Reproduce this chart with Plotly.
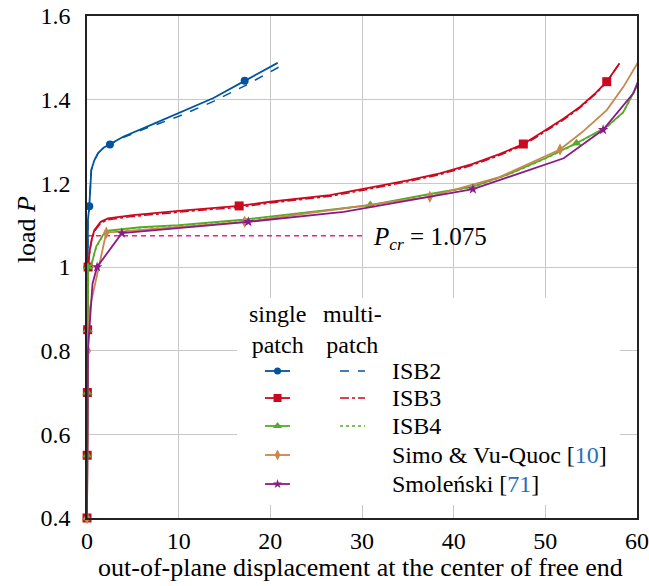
import plotly.graph_objects as go

# ---------------- data ----------------
# ISB2 single patch
isb2_x = [0, 0.01, 0.02, 0.03, 0.05, 0.1, 0.25, 0.47, 0.8, 1.2, 1.8, 2.5, 4.0, 6.5, 10.0, 13.8, 17.2, 20.8]
isb2_y = [0.4, 0.55, 0.7, 0.85, 1.0, 1.112, 1.145, 1.232, 1.255, 1.272, 1.285, 1.293, 1.312, 1.335, 1.368, 1.404, 1.445, 1.488]
isb2_mark = [0, 1, 2, 3, 4, 6, 11, 16]
# ISB2 multi patch
isb2m_x = [0, 0.05, 0.1, 0.25, 0.47, 0.8, 1.2, 1.8, 2.5, 4.0, 6.5, 10.0, 13.8, 17.2, 21.7]
isb2m_y = [0.4, 1.0, 1.112, 1.145, 1.232, 1.255, 1.272, 1.285, 1.293, 1.31, 1.332, 1.36, 1.396, 1.433, 1.487]

# ISB3 single patch
isb3_x = [0, 0.02, 0.04, 0.07, 0.12, 0.3, 0.5, 0.8, 1.5, 2.3, 5.0, 10.0, 16.6, 20.0, 26.5, 30.0, 35.0, 38.5, 42.0, 45.0, 47.6, 50.0, 52.0, 53.8, 55.5, 56.7, 58.1]
isb3_y = [0.4, 0.55, 0.7, 0.85, 1.0, 1.04, 1.065, 1.088, 1.108, 1.116, 1.124, 1.134, 1.146, 1.156, 1.172, 1.186, 1.207, 1.224, 1.246, 1.27, 1.294, 1.327, 1.355, 1.383, 1.416, 1.443, 1.487]
isb3_mark = [0, 1, 2, 3, 4, 12, 20, 25]
# ISB3 multi patch
isb3m_x = [0, 0.12, 0.3, 0.5, 0.8, 1.5, 2.3, 5.0, 10.0, 16.6, 20.0, 26.5, 30.0, 35.0, 38.5, 42.0, 45.0, 47.6, 50.0, 52.0, 53.8, 55.5, 56.7, 58.1]
isb3m_y = [0.4, 1.0, 1.038, 1.062, 1.085, 1.105, 1.113, 1.121, 1.131, 1.143, 1.153, 1.169, 1.183, 1.204, 1.221, 1.243, 1.267, 1.291, 1.324, 1.352, 1.381, 1.414, 1.442, 1.487]

# ISB4 single patch
isb4_x = [0, 0.02, 0.04, 0.07, 0.12, 0.47, 1.0, 1.75, 2.3, 5.8, 10.0, 17.0, 26.5, 30.9, 37.4, 42.1, 46.0, 50.0, 53.4, 56.7, 58.5, 59.6, 60.4]
isb4_y = [0.4, 0.55, 0.7, 0.85, 1.0, 1.005, 1.049, 1.077, 1.087, 1.095, 1.1, 1.113, 1.136, 1.148, 1.175, 1.192, 1.222, 1.26, 1.296, 1.335, 1.37, 1.415, 1.45]
isb4_mark = [0, 1, 2, 3, 4, 13, 18]
# ISB4 multi patch
isb4m_x = [0, 0.12, 0.47, 1.0, 1.75, 2.3, 5.8, 10.0, 17.0, 26.5, 30.9, 37.4, 42.1, 46.0, 50.0, 53.4, 56.7, 58.5, 59.6, 60.4]
isb4m_y = [0.4, 1.0, 1.004, 1.047, 1.075, 1.086, 1.094, 1.099, 1.112, 1.135, 1.147, 1.174, 1.191, 1.221, 1.259, 1.295, 1.334, 1.369, 1.414, 1.449]

# Simo & Vu-Quoc
simo_x = [0, 0.1, 0.29, 2.1, 17.2, 37.4, 45.0, 51.6, 54.0, 56.7, 58.5, 60.4]
simo_y = [0.4, 0.8, 0.9, 1.082, 1.108, 1.168, 1.215, 1.281, 1.322, 1.375, 1.43, 1.5]
simo_mark = [0, 1, 3, 4, 5, 7]

# Smolenski
smol_x = [0, 0.1, 0.6, 1.1, 3.8, 17.6, 28.0, 42.1, 52.0, 56.3, 59.6, 60.4]
smol_y = [0.4, 0.8, 0.96, 1.0, 1.081, 1.108, 1.132, 1.186, 1.26, 1.328, 1.415, 1.46]
smol_mark = [3, 4, 5, 7, 9]

# critical load
p_cr = 1.075
p_cr_xend = 30.0

x_ticks = [0, 10, 20, 30, 40, 50, 60]
y_ticks = [0.4, 0.6, 0.8, 1.0, 1.2, 1.4, 1.6]
y_ticklabels = ["0.4", "0.6", "0.8", "1", "1.2", "1.4", "1.6"]

# ---------------- styles ----------------
C_BLUE = "#00549f"
C_RED = "#cc071e"
C_GREEN = "#57ab27"
C_ORANGE = "#c8874c"
C_PURPLE = "#8a1a88"
C_PINK = "#f01c8c"
C_CITE = "#2a6ebb"
FONT = "'Liberation Serif', 'Times New Roman', 'DejaVu Serif', serif"

series = [
    dict(name="ISB2", x=isb2_x, y=isb2_y, idx=isb2_mark, color=C_BLUE, symbol="circle", size=8,
         mx=isb2m_x, my=isb2m_y, mdash="dash"),
    dict(name="ISB3", x=isb3_x, y=isb3_y, idx=isb3_mark, color=C_RED, symbol="square", size=9,
         mx=isb3m_x, my=isb3m_y, mdash="dashdot"),
    dict(name="ISB4", x=isb4_x, y=isb4_y, idx=isb4_mark, color=C_GREEN, symbol="triangle-up", size=9,
         mx=isb4m_x, my=isb4m_y, mdash="dot"),
    dict(name="Simo", x=simo_x, y=simo_y, idx=simo_mark, color=C_ORANGE, symbol="diamond-tall", size=9,
         mx=None, my=None, mdash=None),
    dict(name="Smol", x=smol_x, y=smol_y, idx=smol_mark, color=C_PURPLE, symbol="star", size=8,
         mx=None, my=None, mdash=None),
]

fig = go.Figure()

# critical load line
fig.add_trace(go.Scatter(x=[0, p_cr_xend], y=[p_cr, p_cr], mode="lines",
                         line=dict(color=C_PINK, width=1.5, dash="5px,4px"), showlegend=False, hoverinfo="skip"))

# curves in legend order (later on top)
for s in series:
    fig.add_trace(go.Scatter(x=s["x"], y=s["y"], mode="lines",
                             line=dict(color=s["color"], width=1.8), showlegend=False, hoverinfo="skip"))
    fig.add_trace(go.Scatter(x=[s["x"][i] for i in s["idx"]], y=[s["y"][i] for i in s["idx"]],
                             mode="markers", cliponaxis=False,
                             marker=dict(color=s["color"], symbol=s["symbol"], size=s["size"], line=dict(width=0)),
                             showlegend=False, hoverinfo="skip"))
    if s["mx"] is not None:
        fig.add_trace(go.Scatter(x=s["mx"], y=s["my"], mode="lines",
                                 line=dict(color=s["color"], width=1.5, dash=s["mdash"]),
                                 showlegend=False, hoverinfo="skip"))

# ---------------- custom legend (overlay axes in [0,1]) ----------------
box_x0, box_x1, box_y0, box_y1 = 0.273, 0.969, 0.026, 0.438
fig.add_trace(go.Scatter(x=[box_x0, box_x1, box_x1, box_x0, box_x0], y=[box_y0, box_y0, box_y1, box_y1, box_y0],
                         xaxis="x2", yaxis="y2", mode="lines", fill="toself", fillcolor="white",
                         line=dict(width=0, color="white"), showlegend=False, hoverinfo="skip"))
row_v = [0.2928, 0.239, 0.1833, 0.1255, 0.0677]
sp_u0, sp_u1, sp_uc = 0.3236, 0.3691, 0.3464
mp_u0, mp_u1 = 0.46, 0.5055
for s, v in zip(series, row_v):
    fig.add_trace(go.Scatter(x=[sp_u0, sp_u1], y=[v, v], xaxis="x2", yaxis="y2", mode="lines",
                             line=dict(color=s["color"], width=1.8), showlegend=False, hoverinfo="skip"))
    fig.add_trace(go.Scatter(x=[sp_uc], y=[v], xaxis="x2", yaxis="y2", mode="markers",
                             marker=dict(color=s["color"], symbol=s["symbol"], size=s["size"] - 1, line=dict(width=0)),
                             showlegend=False, hoverinfo="skip"))
    if s["mdash"] is not None:
        fig.add_trace(go.Scatter(x=[mp_u0, mp_u1], y=[v, v], xaxis="x2", yaxis="y2", mode="lines",
                                 line=dict(color=s["color"], width=1.5, dash=s["mdash"]),
                                 showlegend=False, hoverinfo="skip"))

legend_labels = ["ISB2", "ISB3", "ISB4",
                 "Simo &amp; Vu-Quoc [<span style='color:%s'>10</span>]" % C_CITE,
                 "Smoleński [<span style='color:%s'>71</span>]" % C_CITE]
LFS = 24
annotations = []
for lab, v in zip(legend_labels, row_v):
    annotations.append(dict(x=0.551, y=v, xref="paper", yref="paper", text=lab, showarrow=False,
                            xanchor="left", yanchor="middle", font=dict(family=FONT, size=LFS, color="black")))
for txt, u in [("single<br>patch", 0.3464), ("multi-<br>patch", 0.482)]:
    annotations.append(dict(x=u, y=0.375, xref="paper", yref="paper", text=txt, showarrow=False,
                            xanchor="center", yanchor="middle", align="center",
                            font=dict(family=FONT, size=LFS, color="black")))
annotations.append(dict(x=31.0, y=p_cr, xref="x", yref="y",
                        text="<i>P</i><sub><i>cr</i></sub> = 1.075", showarrow=False,
                        xanchor="left", yanchor="middle", yshift=-3,
                        font=dict(family=FONT, size=25, color="black")))
# axis titles
annotations.append(dict(x=0.498, y=-0.0996, xref="paper", yref="paper",
                        text="out-of-plane displacement at the center of free end", showarrow=False,
                        xanchor="center", yanchor="middle", font=dict(family=FONT, size=26, color="black")))
annotations.append(dict(x=-0.111, y=0.575, xref="paper", yref="paper", text="load <i>P</i>",
                        showarrow=False, textangle=-90, xanchor="center", yanchor="middle",
                        font=dict(family=FONT, size=26, color="black")))

axis_common = dict(showgrid=True, gridcolor="#c8c8c8", gridwidth=1, zeroline=False,
                   showline=True, linecolor="#222", linewidth=1.5, mirror=True, ticks="",
                   automargin=False, tickfont=dict(family=FONT, size=24, color="black"))

fig.update_layout(
    width=649, height=586,
    margin=dict(l=87, r=12, t=16, b=68),
    paper_bgcolor="white", plot_bgcolor="white",
    showlegend=False,
    font=dict(family=FONT),
    xaxis=dict(range=[0, 60], tickvals=x_ticks, **axis_common),
    yaxis=dict(range=[0.4, 1.6], tickvals=y_ticks, ticktext=y_ticklabels, ticklabelstandoff=10, **axis_common),
    xaxis2=dict(range=[0, 1], overlaying="x", visible=False, fixedrange=True),
    yaxis2=dict(range=[0, 1], overlaying="y", visible=False, fixedrange=True),
    annotations=annotations,
)

fig.write_html("out.html")
